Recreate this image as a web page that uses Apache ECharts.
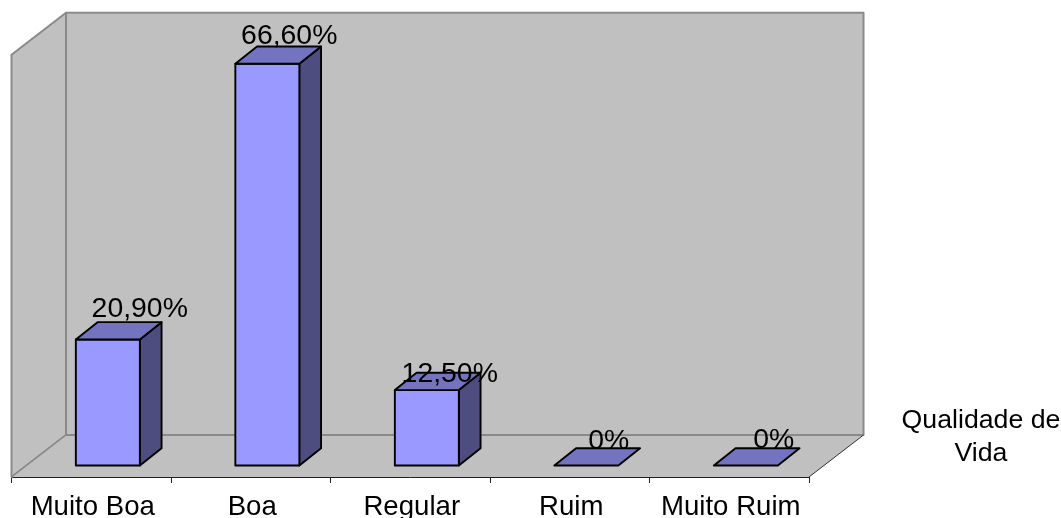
<!DOCTYPE html>
<html>
<head>
<meta charset="utf-8">
<style>html,body{margin:0;padding:0;background:#fff}#chart{width:1061px;height:518px}</style>
<script src="https://cdn.jsdelivr.net/npm/echarts@6/dist/echarts.min.js"></script>
</head>
<body>
<div id="chart"></div>
<script>
// Qualidade de Vida survey results
const categories = ['Muito Boa', 'Boa', 'Regular', 'Ruim', 'Muito Ruim'];
const values = [20.9, 66.6, 12.5, 0, 0];
const valueLabels = ['20,90%', '66,60%', '12,50%', '0%', '0%'];
const seriesName = 'Qualidade de\nVida';

// Oblique projection used for the walls, the floor and the columns
const DEPTH_X = 54.5, DEPTH_Y = -42;      // full depth of the floor
const BAR_W = 64, BAR_SHIFT = 16.6;       // column width, sideways shift of its centre
const BAR_FLOOR_UP = 11.5;                // front face sits this far back on the floor
const BAR_DX = 21.7, BAR_DY = -17.3;      // depth of a column
const LABEL_DX = [48.5, 38.5, 39.5, 39, 44.5];
const LABEL_DY = [-16, -14, -2, -10.5, -11];
const FONT = 'Liberation Sans, Arial, sans-serif';

const wallFill = '#c0c0c0', wallEdge = '#8a8a8a';

function poly(points, fill, stroke, width) {
  return {
    type: 'polygon',
    shape: { points },
    style: { fill, stroke, lineWidth: width, lineJoin: 'round' }
  };
}

function line(a, b, stroke, width) {
  return {
    type: 'line',
    shape: { x1: a[0], y1: a[1], x2: b[0], y2: b[1] },
    style: { stroke, lineWidth: width }
  };
}

function renderWalls(params) {
  const r = params.coordSys;
  const L = r.x, R = r.x + r.width, T = r.y, B = r.y + r.height;
  const dx = DEPTH_X, dy = DEPTH_Y;
  return {
    type: 'group',
    children: [
      poly([[L + dx, T + dy], [R + dx, T + dy], [R + dx, B + dy], [L + dx, B + dy]], wallFill, wallEdge, 2),
      poly([[L, T], [L + dx, T + dy], [L + dx, B + dy], [L, B]], wallFill, wallEdge, 2),
      poly([[L, B], [L + dx, B + dy], [R + dx, B + dy], [R, B]], wallFill, null, 0),
      line([L + dx, B + dy], [R + dx, B + dy], wallEdge, 2),
      line([L, B], [L + dx, B + dy], wallEdge, 1.5),
      line([R, B], [R + dx, B + dy], '#333', 1)
    ]
  };
}

function renderBar(params, api) {
  const i = api.value(0);
  const base = api.coord([i, 0]);
  const top = api.coord([i, api.value(1)]);
  const x0 = base[0] + BAR_SHIFT - BAR_W / 2, x1 = x0 + BAR_W;
  const yB = base[1] - BAR_FLOOR_UP, yT = top[1] - BAR_FLOOR_UP;
  const dx = BAR_DX, dy = BAR_DY;
  const s = { stroke: '#000', width: 1.9 };
  const children = [];
  if (yB - yT > 0.5) {
    children.push(
      poly([[x1, yT], [x1 + dx, yT + dy], [x1 + dx, yB + dy], [x1, yB]], '#4d4d80', s.stroke, s.width),
      poly([[x0, yT], [x1, yT], [x1, yB], [x0, yB]], '#9999ff', s.stroke, s.width)
    );
  }
  children.push(poly([[x0, yT], [x0 + dx, yT + dy], [x1 + dx, yT + dy], [x1, yT]], '#7373bf', s.stroke, s.width));
  return { type: 'group', children };
}

function renderLabel(params, api) {
  const i = api.value(0);
  const top = api.coord([i, api.value(1)]);
  return {
    type: 'text',
    x: top[0] + LABEL_DX[i],
    y: top[1] - BAR_FLOOR_UP + LABEL_DY[i],
    style: {
      text: valueLabels[i],
      fill: '#000',
      font: '28.4px ' + FONT,
      textAlign: 'center',
      textVerticalAlign: 'bottom'
    }
  };
}

const rows = categories.map((c, i) => [i, values[i]]);

const chart = echarts.init(document.getElementById('chart'), null, { renderer: 'canvas' });
chart.setOption({
  animation: false,
  backgroundColor: '#ffffff',
  grid: { left: 11.5, right: 252, top: 54.8, bottom: 41, outerBoundsMode: 'none' },
  title: {
    text: seriesName,
    left: 976,
    top: 399,
    textAlign: 'center',
    textStyle: { fontFamily: FONT, fontSize: 26.7, fontWeight: 'normal', color: '#000', lineHeight: 33, align: 'center' }
  },
  xAxis: {
    type: 'category',
    data: categories,
    boundaryGap: true,
    axisLine: { show: true, lineStyle: { color: '#222', width: 1 } },
    axisTick: { show: true, length: 6, lineStyle: { color: '#222', width: 1 } },
    axisLabel: { color: '#000', fontFamily: FONT, fontSize: 27.6, margin: 16, interval: 0, padding: [0, 0, 0, 3] }
  },
  yAxis: { type: 'value', min: 0, max: 70, show: false },
  series: [
    { type: 'custom', name: 'paredes', data: [[0, 0]], renderItem: renderWalls, silent: true, z: 1, clip: false },
    { type: 'custom', name: 'Qualidade de Vida', data: rows, renderItem: renderBar, z: 2, clip: false,
      encode: { x: 0, y: 1 } },
    { type: 'custom', name: 'rótulos', data: rows, renderItem: renderLabel, z: 3, clip: false,
      encode: { x: 0, y: 1 } }
  ]
});
</script>
</body>
</html>
